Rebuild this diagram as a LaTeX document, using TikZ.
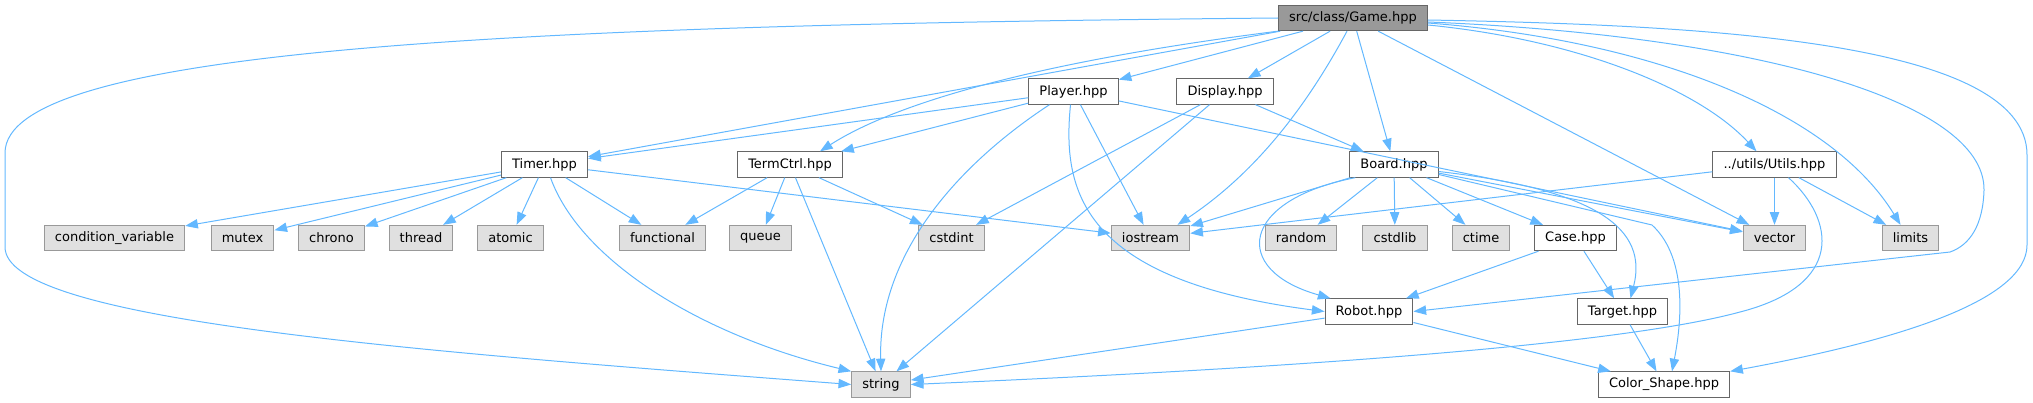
\documentclass[tikz,border=0pt]{standalone}
\usepackage{fontspec}
\setmainfont{DejaVu Sans}
\usepackage{tikz}
\usetikzlibrary{calc, arrows.meta}
\usepackage{xcolor}
\definecolor{edgeblue}{RGB}{99, 184, 255}
\definecolor{leafgray}{RGB}{224, 224, 224}
\definecolor{leafline}{RGB}{153, 153, 153}
\definecolor{rootgray}{RGB}{153, 153, 153}
\definecolor{boxline}{RGB}{102, 102, 102}

\begin{document}
\begin{tikzpicture}[x=0.75pt, y=-0.75pt, >={Triangle[length=9.5pt, width=7pt]}, line width=0.75pt,
    font=\fontsize{9.75}{11}\selectfont,
    file/.style={draw=boxline, fill=white, minimum height=19pt, inner xsep=8pt, inner ysep=0pt},
    sys/.style={file, draw=leafline, fill=leafgray},
    root/.style={file, fill=rootgray},
    dep/.style={->, edgeblue}]
    \useasboundingbox (0,0) rectangle (2033,403);

    % 节点
    \node[root] (Game) at (1353,18) {src/class/Game.hpp};
    \node[file] (Player) at (1073.5,91.5) {Player.hpp};
    \node[file] (Display) at (1225,91.5) {Display.hpp};
    \node[file] (Timer) at (544.5,164.5) {Timer.hpp};
    \node[file] (TermCtrl) at (790,164.5) {TermCtrl.hpp};
    \node[file] (Board) at (1394,164.5) {Board.hpp};
    \node[file] (Utils) at (1774.5,164.5) {../utils/Utils.hpp};
    \node[sys] (CondVar) at (114.5,238) {condition\_variable};
    \node[sys] (Mutex) at (242.5,238) {mutex};
    \node[sys] (Chrono) at (331.5,238) {chrono};
    \node[sys] (Thread) at (421,238) {thread};
    \node[sys] (Atomic) at (510.5,238) {atomic};
    \node[sys] (Functional) at (662.5,238) {functional};
    \node[sys] (Queue) at (760.5,238) {queue};
    \node[sys] (Cstdint) at (951.5,238) {cstdint};
    \node[sys] (Iostream) at (1150.5,238) {iostream};
    \node[sys] (Random) at (1301,238) {random};
    \node[sys] (Cstdlib) at (1395,238) {cstdlib};
    \node[sys] (Ctime) at (1481,238) {ctime};
    \node[file] (Case) at (1575.5,238) {Case.hpp};
    \node[sys] (Vector) at (1774.5,238) {vector};
    \node[sys] (Limits) at (1910.5,238) {limits};
    \node[file] (Robot) at (1369,311.5) {Robot.hpp};
    \node[file] (Target) at (1622.5,311.5) {Target.hpp};
    \node[sys] (String) at (881,384.5) {string};
    \node[file] (ColorShape) at (1664,384.5) {Color\_Shape.hpp};

    % Game.hpp
    \draw[dep] (Game.west) .. controls (500,25) and (5,50) .. (5,153) -- (5,247) .. controls (5,320) and (400,350) .. (String.west);
    \draw[dep] (Game) -- (Timer);
    \draw[dep] (Game.south west) .. controls (1050,60) and (900,100) .. ($(TermCtrl.north)+(30,0)$);
    \draw[dep] (Game) -- (Player);
    \draw[dep] (Game) -- (Display);
    \draw[dep] ($(Game.south)+(-6,0)$) .. controls (1310,100) and (1260,170) .. ($(Iostream.north)+(27,0)$);
    \draw[dep] (Game) -- (Board);
    \draw[dep] (Game) -- (Vector);
    \draw[dep] ($(Game.east)+(0,7)$) .. controls (1580,40) and (1700,90) .. ($(Utils.north)+(-18,0)$);
    \draw[dep] ($(Game.east)+(0,5)$) .. controls (1650,40) and (1830,110) .. ($(Limits.north)+(-10,0)$);
    \draw[dep] ($(Game.east)+(0,4)$) .. controls (1750,35) and (1985,100) .. (1984,190) .. controls (1983,225) and (1970,245) .. (1950,252) -- (Robot.east);
    \draw[dep] ($(Game.east)+(0,2)$) .. controls (1700,25) and (2027,40) .. (2027,155) -- (2027,245) .. controls (2027,300) and (1900,340) .. (ColorShape.north east);

    % Player.hpp
    \foreach \dst in {Timer, TermCtrl, Iostream, Vector}
        \draw[dep] (Player) -- (\dst);
    \draw[dep] ($(Player.south)+(-24,0)$) .. controls (950,170) and (878,260) .. (String.north);
    \draw[dep] ($(Player.south)+(-3,0)$) .. controls (1062,190) and (1080,280) .. (Robot.west);

    % Display.hpp
    \foreach \dst in {Cstdint, String, Board}
        \draw[dep] (Display) -- (\dst);

    % Timer.hpp
    \foreach \dst in {CondVar, Mutex, Chrono, Thread, Atomic, Functional, Iostream}
        \draw[dep] (Timer) -- (\dst);
    \draw[dep] ($(Timer.south)+(6,0)$) .. controls (580,260) and (700,335) .. (String.north west);

    % TermCtrl.hpp
    \foreach \dst in {Functional, Queue, Cstdint, String}
        \draw[dep] (TermCtrl) -- (\dst);

    % Board.hpp
    \foreach \dst in {Iostream, Random, Cstdlib, Ctime, Case, Vector}
        \draw[dep] (Board) -- (\dst);
    \draw[dep] ($(Board.east)+(0,7)$) .. controls (1600,190) and (1648,230) .. ($(Target.north)+(8,0)$);
    \draw[dep] ($(Board.east)+(0,10)$) -- (1652,225) .. controls (1690,260) and (1680,330) .. ($(ColorShape.north)+(8,0)$);
    \draw[dep] ($(Board.south west)+(6,0)$) .. controls (1240,200) and (1230,270) .. ($(Robot.north west)+(6,0)$);

    % Utils.hpp
    \foreach \dst in {Iostream, Vector, Limits}
        \draw[dep] (Utils) -- (\dst);
    \draw[dep] ($(Utils.south)+(14,0)$) .. controls (1835,220) and (1845,285) .. (1740,312) .. controls (1600,350) and (1200,372) .. (String.east);

    % 其余
    \draw[dep] (Case) -- (Robot);
    \draw[dep] (Case) -- (Target);
    \draw[dep] (Target) -- (ColorShape);
    \draw[dep] (Robot) -- (String);
    \draw[dep] (Robot) -- (ColorShape);
\end{tikzpicture}
\end{document}
